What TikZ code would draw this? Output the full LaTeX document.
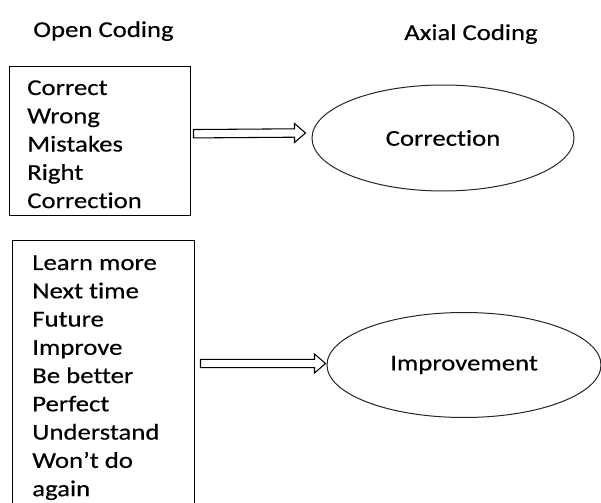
\documentclass[tikz,border=0pt]{standalone}
\usepackage{fontspec}
\setmainfont{Carlito}[FakeStretch=1.18, FakeBold=0.4, Ligatures=NoCommon]
\usetikzlibrary{shapes.geometric,calc}

\tikzset{
  codebox/.style={draw=black, line width=1.1pt, rectangle, inner sep=0pt, anchor=north west},
  codelist/.style={anchor=base west, inner sep=0pt, font=\fontsize{17pt}{21.2pt}\selectfont},
  heading/.style={anchor=base, inner sep=0pt, font=\fontsize{17pt}{20pt}\selectfont},
  category/.style={draw=black!85, line width=0.75pt, ellipse, inner sep=0pt,
                   font=\fontsize{17pt}{20pt}\selectfont},
  hollow/.style={draw=black, line width=0.8pt, fill=white, line join=miter}
}

% hollow block arrow from #1 to #2 (horizontal)
\newcommand{\hollowarrow}[2]{%
  \draw[hollow] ($(#1)+(0,-4.2)$) -- ($(#2)+(-11,-4.2)$) -- ($(#2)+(-11,-9.5)$)
     -- (#2) -- ($(#2)+(-11,9.5)$) -- ($(#2)+(-11,4.2)$) -- ($(#1)+(0,4.2)$) -- cycle;}

\newcommand{\lines}[1]{\vtop{\baselineskip=21.2pt\lineskiplimit=0pt\lineskip=0pt #1}}

\begin{document}
\begin{tikzpicture}[x=0.75pt,y=-0.75pt]
  \useasboundingbox (0,0) rectangle (601,503);
  \begin{scope}
  \clip (0,0) rectangle (601,503);

  % column headings
  \node[heading] (hopen) at (103.5,37) {Open Coding};
  \node[heading] (haxial) at (471,40) {Axial Coding};

  % open codes
  \node[codebox, minimum width=135.75pt, minimum height=111.75pt] (b1) at (9,66) {};
  \node[codelist] (l1) at (27,95) {\lines{\hbox{Correct}\hbox{Wrong}\hbox{Mistakes}\hbox{Right}\hbox{Correction}}};

  \node[codebox, minimum width=136.5pt, minimum height=217.5pt] (b2) at (12,240) {};
  \node[codelist] (l2) at (32,270) {\lines{\hbox{Learn more}\hbox{Next time}\hbox{Future}\hbox{Improve}\hbox{Be better}\hbox{Perfect}\hbox{Understand}\hbox{Won’t do}\hbox{again}}};

  % axial categories
  \node[category, minimum width=196.5pt, minimum height=79.5pt] (e1) at (443,138) {Correction};
  \node[category, minimum width=205.5pt, minimum height=78.75pt] (e2) at (464,365) {Improvement};

  % connectors
  \coordinate (a1s) at ($(b1.east)+(2,-7.5)$);
  \coordinate (a1e) at ($(e1.west)+(-6,-5)$);
  \hollowarrow{a1s}{a1e}

  \coordinate (a2s) at ($(b2.east |- e2.west)+(5,-1.5)$);
  \coordinate (a2e) at ($(e2.west)+(-1,-1.5)$);
  \hollowarrow{a2s}{a2e}
  \end{scope}
\end{tikzpicture}
\end{document}
